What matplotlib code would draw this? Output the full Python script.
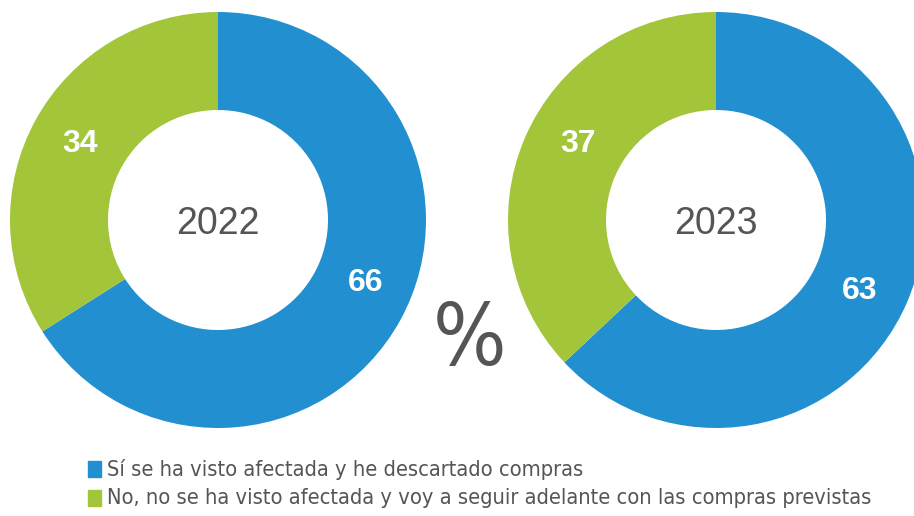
import numpy as np
import matplotlib.pyplot as plt
from matplotlib.patches import Rectangle

# -----------------------------
# Data
# -----------------------------
years = ["2022", "2023"]
si_values = [66, 63]   # Sí se ha visto afectada y he descartado compras
no_values = [34, 37]   # No, no se ha visto afectada ...
legend_labels = [
    "Sí se ha visto afectada y he descartado compras",
    "No, no se ha visto afectada y voy a seguir adelante con las compras previstas",
]

blue = "#228FD0"
green = "#A2C53A"
grey = "#555555"

# -----------------------------
# Layout (pixels)
# -----------------------------
W, H = 914, 516
centers = [(218, 220), (716, 220)]
r_out = 208
r_in = 110
# angles (deg) where the value labels sit: [blue, green] per donut
label_angles = [(-22, 150), (-25, 150)]

fig = plt.figure(figsize=(W / 100, H / 100), dpi=100)


def px_axes(cx, cy, r):
    return fig.add_axes([(cx - r) / W, (H - cy - r) / H, 2 * r / W, 2 * r / H])


r_lab = (r_in + r_out) / 2 / r_out
for (cx, cy), year, si, no, angs in zip(centers, years, si_values, no_values, label_angles):
    ax = px_axes(cx, cy, r_out)
    ax.pie(
        [si, no],
        colors=[blue, green],
        startangle=90,
        counterclock=False,
        radius=1,
        wedgeprops=dict(width=1 - r_in / r_out, edgecolor="none"),
    )
    for val, a in zip([si, no], angs):
        t = np.deg2rad(a)
        ax.text(r_lab * np.cos(t), r_lab * np.sin(t), f"{val}", ha="center",
                va="center_baseline", color="white", fontsize=23,
                fontweight="bold", family="Liberation Sans")
    ax.set_xlim(-1, 1)
    ax.set_ylim(-1, 1)
    ax.set_aspect("equal")
    ax.axis("off")
    ax.text(0, 0, year, ha="center", va="center_baseline", fontsize=27,
            color=grey, family="Liberation Sans")

fig.text(470 / W, 1 - 332 / H, "%", ha="center", va="center_baseline",
         fontsize=62, color=grey, family="DejaVu Sans", stretch="condensed")

# -----------------------------
# Legend
# -----------------------------
for i, (lab, col) in enumerate(zip(legend_labels, [blue, green])):
    y = 469 + i * 29
    fig.patches.append(Rectangle((88 / W, 1 - (y + 8) / H), 13 / W, 16 / H,
                                 transform=fig.transFigure, color=col))
    fig.text(107 / W, 1 - y / H, lab, ha="left", va="center", fontsize=15.7,
             color=grey, family="DejaVu Sans", stretch="condensed")

fig.savefig("out.png", dpi=100)
